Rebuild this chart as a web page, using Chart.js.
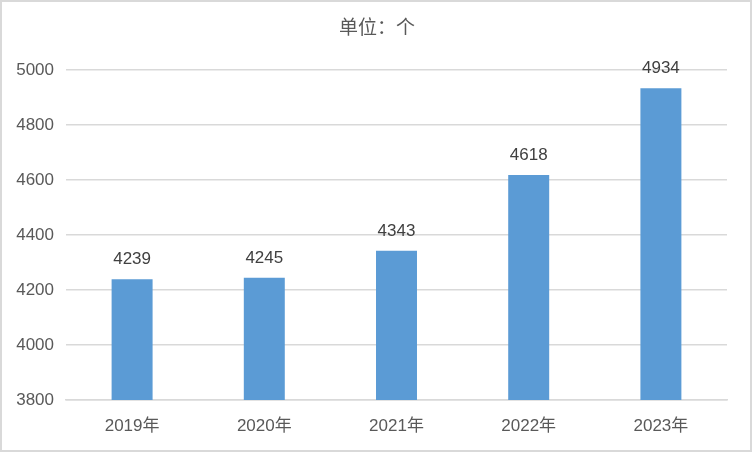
<!DOCTYPE html>
<html>
<head>
<meta charset="utf-8">
<script src="https://cdn.jsdelivr.net/npm/chart.js@4"></script>
<style>
html,body{margin:0;padding:0;background:#fff;}
#wrap{width:752px;height:452px;position:relative;}
</style>
</head>
<body>
<div id="wrap"><canvas id="c" width="752" height="452"></canvas></div>
<script>
const categories = ["2019年", "2020年", "2021年", "2022年", "2023年"];
const values = [4239, 4245, 4343, 4618, 4934];
const yTicks = [3800, 4000, 4200, 4400, 4600, 4800, 5000];
const titleText = "单位：个";

const FONT = "'Liberation Sans', 'Noto Sans CJK SC', sans-serif";

const extras = {
  id: 'extras',
  afterDraw(chart) {
    const ctx = chart.ctx;
    ctx.save();
    ctx.strokeStyle = '#d9d9d9';
    ctx.lineWidth = 2;
    ctx.strokeRect(1, 1, chart.width - 2, chart.height - 2);
    ctx.fillStyle = '#595959';
    ctx.font = "19px " + FONT;
    ctx.textAlign = 'center';
    ctx.textBaseline = 'middle';
    ctx.fillText(titleText, 377, 29);
    ctx.fillStyle = '#404040';
    ctx.font = "17px " + FONT;
    ctx.textBaseline = 'bottom';
    const meta = chart.getDatasetMeta(0);
    meta.data.forEach((bar, i) => {
      ctx.fillText(String(values[i]), bar.x, bar.y - 11);
    });
    ctx.restore();
  }
};

new Chart(document.getElementById('c'), {
  type: 'bar',
  data: {
    labels: categories,
    datasets: [{
      data: values,
      backgroundColor: '#5b9bd5',
      borderWidth: 0,
      barPercentage: 0.62,
      categoryPercentage: 0.5
    }]
  },
  options: {
    responsive: false,
    animation: false,
    devicePixelRatio: 1,
    layout: { padding: { top: 70, right: 25, left: 0, bottom: 0 } },
    plugins: { legend: { display: false }, title: { display: false }, tooltip: { enabled: false } },
    scales: {
      x: {
        grid: { display: false },
        border: { color: '#d9d9d9', width: 1.5 },
        ticks: { color: '#595959', font: { size: 17, family: FONT }, padding: 8 },
        afterFit(s) { s.height = 52; }
      },
      y: {
        min: 3800, max: 5000,
        afterBuildTicks(s) { s.ticks = yTicks.map(v => ({ value: v })); },
        grid: { color: '#d9d9d9', lineWidth: 1.5, drawTicks: false },
        border: { display: false },
        ticks: { color: '#595959', font: { size: 17, family: FONT }, padding: 12, callback: v => String(v) },
        afterFit(s) { s.width = 66; }
      }
    }
  },
  plugins: [extras]
});
</script>
</body>
</html>
